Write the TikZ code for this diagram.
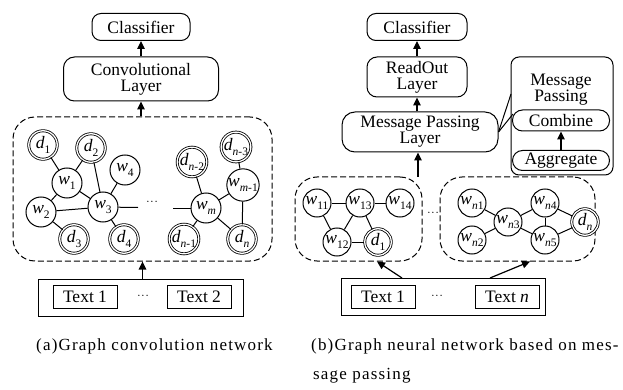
\documentclass[tikz,border=0pt]{standalone}
\usepackage{fontspec}
\setmainfont{Liberation Serif}
\newfontfamily\capfont[LetterSpace=7]{Liberation Serif}
\usetikzlibrary{arrows.meta}
\newcommand{\sbx}[1]{\raisebox{-0.3em}{\fontsize{11.5}{11.5}\selectfont #1}}
\newcommand{\wl}[1]{{\itshape w}\sbx{#1}}
\newcommand{\dl}[1]{{\itshape d}\sbx{#1}}
\newcommand{\mydots}{{\fontsize{11}{11}\selectfont\textperiodcentered\kern0.5pt\textperiodcentered\kern0.5pt\textperiodcentered}}
\tikzset{
  lbl/.style={font=\fontsize{17.5}{16}\selectfont},
  layerbox/.style={draw, line width=1pt, rounded corners=9pt, align=center, inner sep=0pt, lbl},
  pillbox/.style={draw, line width=1pt, rounded corners=10pt, align=center, inner sep=0pt, lbl},
  wcirc/.style={circle, draw, line width=1pt, minimum size=30pt, inner sep=0pt, fill=white, lbl},
  wcircb/.style={wcirc, minimum size=28pt},
  dcirc/.style={circle, draw, double, double distance=1.3pt, line width=0.8pt, minimum size=28.5pt, inner sep=0pt, fill=white, lbl},
  dcircb/.style={dcirc, minimum size=26.5pt},
  dashbox/.style={draw, dashed, dash pattern=on 6pt off 3pt, line width=1pt, rounded corners=22pt, inner sep=0pt},
  plainbox/.style={draw, line width=1pt, inner sep=0pt, lbl},
  edge/.style={line width=1pt},
  arr/.style={line width=1.2pt, -{Triangle[length=8pt,width=7.5pt]}},
  dotsn/.style={inner sep=0pt},
  captxt/.style={font=\capfont\fontsize{17}{17}\selectfont, anchor=west, inner sep=0pt}
}
\begin{document}
\begin{tikzpicture}[x=1pt,y=-1pt]
\useasboundingbox (0,0) rectangle (623,390);

% ---------------- Left panel (a) ----------------
\node[layerbox, minimum width=98pt, minimum height=27pt] (clsA) at (141,27) {Classifier};
\node[layerbox, rounded corners=11pt, minimum width=155pt, minimum height=44pt] (conv) at (141,79) {Convolutional\\Layer};
\node[dashbox, minimum width=259pt, minimum height=144pt] (gA) at (142.5,189) {};

\node[dcirc] (ad1) at (43,145) {\dl{1}};
\node[dcirc] (ad2) at (91,148) {\dl{2}};
\node[wcirc] (aw4) at (125,170) {\wl{4}};
\node[wcirc] (aw1) at (67,183) {\wl{1}};
\node[wcirc] (aw2) at (41,212) {\wl{2}};
\node[wcirc] (aw3) at (103,207) {\wl{3}};
\node[dcirc] (ad3) at (74,239) {\dl{3}};
\node[dcirc] (ad4) at (124,239) {\dl{4}};
\node[dotsn] (adots) at (152,203) {\mydots};
\coordinate (adl) at (138,207.5);
\coordinate (adr) at (173,208);
\node[wcirc] (awm) at (206,208) {\wl{\itshape m}};
\node[wcirc] (awm1) at (243,185) {{\itshape w}\sbx{{\itshape m}-1}};
\node[dcirc] (adn2) at (192,162) {{\itshape d}\sbx{{\itshape n}-2}};
\node[dcirc] (adn3) at (236,147) {{\itshape d}\sbx{{\itshape n}-3}};
\node[dcirc] (adn1) at (184,239) {{\itshape d}\sbx{{\itshape n}-1}};
\node[dcirc] (adn) at (242,239) {{\itshape d}\sbx{\itshape n}};

\draw[edge] (ad1) -- (aw1);
\draw[edge] (ad2) -- (aw1);
\draw[edge] (ad2) -- (aw3);
\draw[edge] (aw4) -- (aw3);
\draw[edge] (aw1) -- (aw3);
\draw[edge] (aw1) -- (aw2);
\draw[edge] (aw2) -- (aw3);
\draw[edge] (aw2) -- (ad3);
\draw[edge] (aw3) -- (ad4);
\draw[edge] (aw3) -- (adl);
\draw[edge] (adr) -- (awm);
\draw[edge] (awm) -- (adn2);
\draw[edge] (awm) -- (awm1);
\draw[edge] (awm) -- (adn1);
\draw[edge] (awm) -- (adn);
\draw[edge] (awm1) -- (adn3);
\draw[edge] (awm1) -- (adn);

\node[plainbox, minimum width=205pt, minimum height=37pt] (tA) at (140.5,297.5) {};
\node[plainbox, minimum width=64pt, minimum height=23pt] (tA1) at (85,296.5) {Text 1};
\node[dotsn] (tAd) at (143,297) {\mydots};
\node[plainbox, minimum width=64pt, minimum height=23pt] (tA2) at (199,296.5) {Text 2};

\draw[arr] (conv.north) -- (clsA.south);
\draw[arr] (conv.south |- gA.north) -- (conv.south);
\draw[arr] (tA.north -| 142.5,0) -- (gA.south);

\node[captxt] (capA) at (36,346) {(a)Graph convolution network};

% ---------------- Right panel (b) ----------------
\node[layerbox, minimum width=100pt, minimum height=27pt] (clsB) at (417,27) {Classifier};
\node[layerbox, rounded corners=10pt, minimum width=100pt, minimum height=40pt] (ro) at (417,77) {ReadOut\\Layer};
\node[layerbox, rounded corners=13pt, minimum width=156pt, minimum height=40pt] (mpl) at (420,132) {Message Passing\\Layer};

\node[layerbox, rounded corners=8pt, minimum width=102pt, minimum height=118pt] (mpbox) at (562,116) {};
\node[lbl, align=center, inner sep=0pt] (mptxt) at (561,90) {Message\\Passing};
\node[pillbox, minimum width=97pt, minimum height=21pt] (comb) at (561,120.5) {Combine};
\node[pillbox, minimum width=97pt, minimum height=20pt] (aggr) at (561,160.5) {Aggregate};
\draw[arr] (aggr.north) -- (comb.south);
\coordinate (cu) at (511,94);
\coordinate (cl) at (513,114);
\draw[edge] (mpl.east) -- (cu);
\draw[edge] (mpl.east) -- (cl);

\node[dashbox, minimum width=127pt, minimum height=84pt] (gB1) at (358.5,219) {};
\node[dashbox, minimum width=155pt, minimum height=84pt] (gB2) at (517.5,219) {};
\node[dotsn] (bdots) at (433,214) {\mydots};

\node[wcircb] (bw11) at (317,203) {\wl{11}};
\node[wcircb] (bw13) at (360,203) {\wl{13}};
\node[wcircb] (bw14) at (400,203) {\wl{14}};
\node[wcircb] (bw12) at (337,242) {\wl{12}};
\node[dcircb] (bd1) at (378,242) {\dl{1}};
\draw[edge] (bw11) -- (bw13);
\draw[edge] (bw13) -- (bw14);
\draw[edge] (bw11) -- (bw12);
\draw[edge] (bw13) -- (bw12);
\draw[edge] (bw13) -- (bd1);
\draw[edge] (bw12) -- (bd1);

\node[wcircb] (bwn1) at (472,203) {{\itshape w}\sbx{{\itshape n}1}};
\node[wcircb] (bwn2) at (472,240) {{\itshape w}\sbx{{\itshape n}2}};
\node[wcircb] (bwn3) at (508,222) {{\itshape w}\sbx{{\itshape n}3}};
\node[wcircb] (bwn4) at (545,203) {{\itshape w}\sbx{{\itshape n}4}};
\node[wcircb] (bwn5) at (545,240) {{\itshape w}\sbx{{\itshape n}5}};
\node[dcircb] (bdn) at (585,222) {{\itshape d}\sbx{\itshape n}};
\draw[edge] (bwn1) -- (bwn3);
\draw[edge] (bwn2) -- (bwn3);
\draw[edge] (bwn3) -- (bwn4);
\draw[edge] (bwn3) -- (bwn5);
\draw[edge] (bwn4) -- (bwn5);
\draw[edge] (bwn4) -- (bdn);
\draw[edge] (bwn5) -- (bdn);

\node[plainbox, minimum width=204pt, minimum height=37pt] (tB) at (443,296.5) {};
\node[plainbox, minimum width=64pt, minimum height=23pt] (tB1) at (383,296.5) {Text 1};
\node[dotsn] (tBd) at (437,297) {\mydots};
\node[plainbox, minimum width=64pt, minimum height=23pt] (tBn) at (507,296.5) {Text {\itshape n}};

\coordinate (s1) at (402,278);
\coordinate (s2) at (490,278);
\draw[arr] (s1) -- (gB1.south -| 377,0);
\draw[arr] (s2) -- (gB2.south -| 530,0);
\coordinate (mps) at (418,177);
\draw[arr] (mps) -- (mpl.south -| mps);
\draw[arr] (ro.north) -- (clsB.south);
\draw[arr] (mpl.north -| ro.south) -- (ro.south);

\node[captxt] (capB1) at (311,346) {(b)Graph neural network based on mes-};
\node[captxt] (capB2) at (313,376) {sage passing};
\end{tikzpicture}
\end{document}
